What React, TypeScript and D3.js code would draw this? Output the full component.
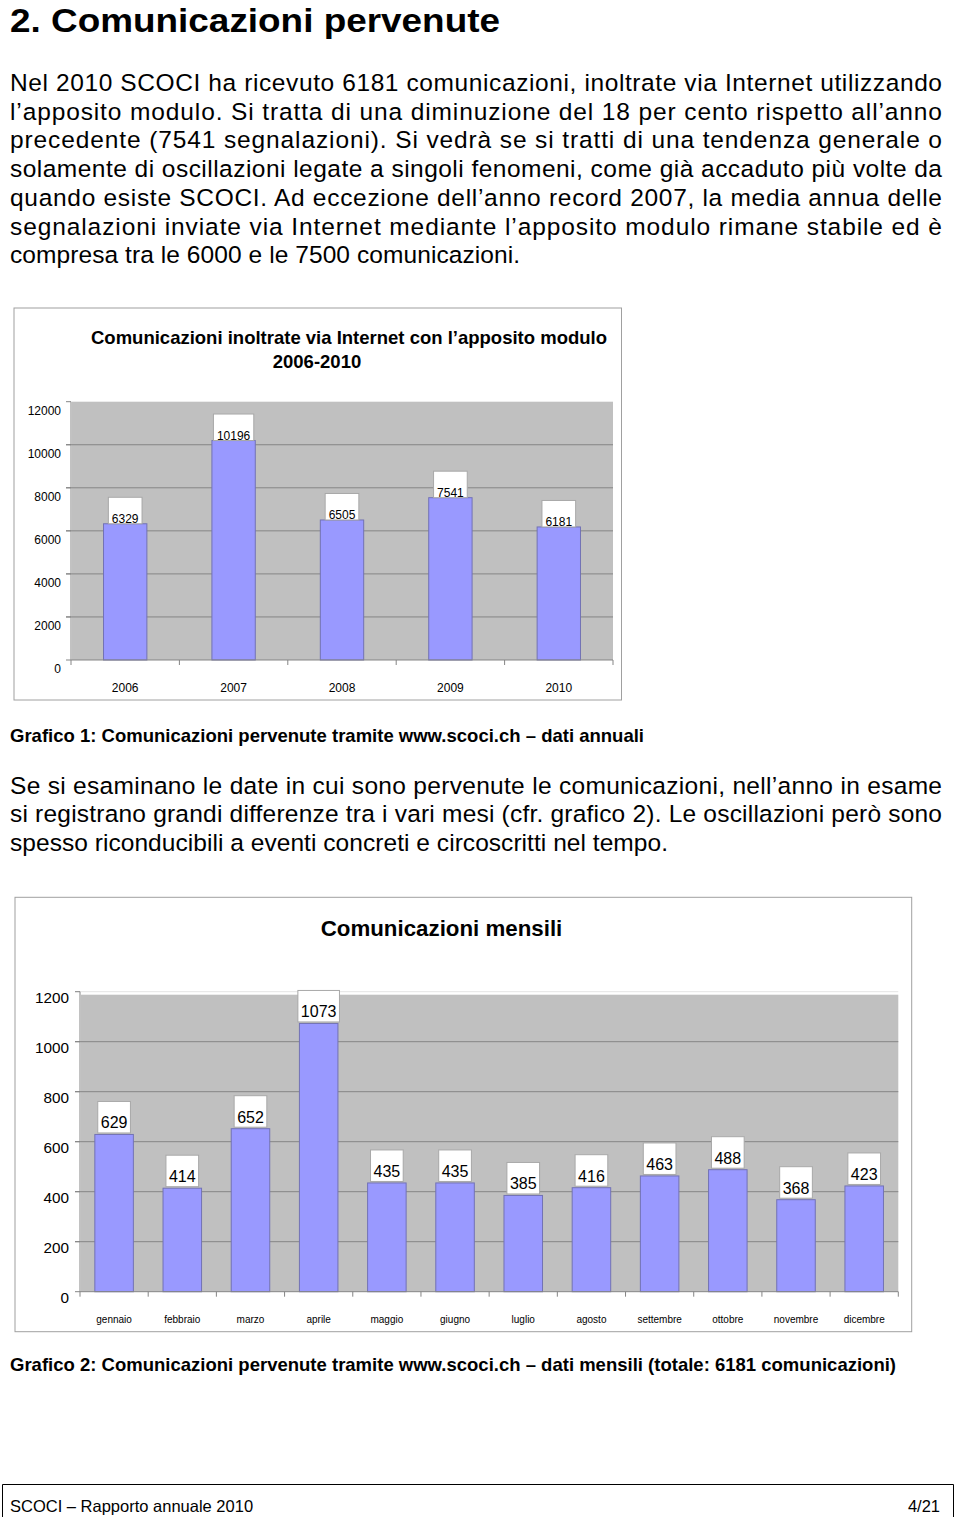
/* eslint-disable */
import React, { useRef, useEffect } from "react";
import * as d3 from "d3";

// Page text
const heading = "2. Comunicazioni pervenute";
const introLines = [
  "Nel 2010 SCOCI ha ricevuto 6181 comunicazioni, inoltrate via Internet utilizzando",
  "l’apposito modulo. Si tratta di una diminuzione del 18 per cento rispetto all’anno",
  "precedente (7541 segnalazioni). Si vedrà se si tratti di una tendenza generale o",
  "solamente di oscillazioni legate a singoli fenomeni, come già accaduto più volte da",
  "quando esiste SCOCI. Ad eccezione dell’anno record 2007, la media annua delle",
  "segnalazioni inviate via Internet mediante l’apposito modulo rimane stabile ed è",
  "compresa tra le 6000 e le 7500 comunicazioni.",
];
const monthLines = [
  "Se si esaminano le date in cui sono pervenute le comunicazioni, nell’anno in esame",
  "si registrano grandi differenze tra i vari mesi (cfr. grafico 2). Le oscillazioni però sono",
  "spesso riconducibili a eventi concreti e circoscritti nel tempo.",
];
const caption1 = "Grafico 1: Comunicazioni pervenute tramite www.scoci.ch – dati annuali";
const caption2 =
  "Grafico 2: Comunicazioni pervenute tramite www.scoci.ch – dati mensili (totale: 6181 comunicazioni)";
const footerLeft = "SCOCI – Rapporto annuale 2010";
const footerRight = "4/21";

// Chart 1 data
const annualTitle = ["Comunicazioni inoltrate via Internet con l’apposito modulo", "2006-2010"];
const years = ["2006", "2007", "2008", "2009", "2010"];
const annualValues = [6329, 10196, 6505, 7541, 6181];
const annualTicks = [0, 2000, 4000, 6000, 8000, 10000, 12000];

// Chart 2 data
const monthlyTitle = ["Comunicazioni mensili"];
const months = [
  "gennaio", "febbraio", "marzo", "aprile", "maggio", "giugno",
  "luglio", "agosto", "settembre", "ottobre", "novembre", "dicembre",
];
const monthlyValues = [629, 414, 652, 1073, 435, 435, 385, 416, 463, 488, 368, 423];
const monthlyTicks = [0, 200, 400, 600, 800, 1000, 1200];

const App = () => {
  const svgRef = useRef<SVGSVGElement>(null);

  useEffect(() => {
    if (!svgRef.current) return;
    const svg = d3.select(svgRef.current);
    svg.selectAll("*").remove();

    const width = 960;
    const height = 1517;
    svg
      .attr("width", width)
      .attr("height", height)
      .attr("viewBox", [0, 0, width, height])
      .style("position", "absolute")
      .style("left", 0)
      .style("top", 0)
      .style("background", "#fff")
      .style("font-family", "'Liberation Sans', Arial, Helvetica, sans-serif");

    // Heading + paragraphs
    svg
      .append("text")
      .attr("x", 10)
      .attr("y", 31.5)
      .attr("font-size", 34)
      .attr("font-weight", "bold")
      .attr("textLength", 490)
      .attr("lengthAdjust", "spacingAndGlyphs")
      .text(heading);

    const paragraph = (lines: string[], y0: number, step: number, lastWidth: number) => {
      lines.forEach((line, i) => {
        const last = i === lines.length - 1;
        svg
          .append("text")
          .attr("x", 10)
          .attr("y", y0 + i * step)
          .attr("font-size", 24.5)
          .attr("textLength", last ? lastWidth : 932)
          .attr("lengthAdjust", "spacing")
          .text(line);
      });
    };
    paragraph(introLines, 91, 28.7, 510);
    paragraph(monthLines, 793.5, 28.5, 658);

    // Captions
    svg
      .append("text")
      .attr("x", 10)
      .attr("y", 741.5)
      .attr("font-size", 18.5)
      .attr("font-weight", "bold")
      .attr("textLength", 634)
      .attr("lengthAdjust", "spacing")
      .text(caption1);
    svg
      .append("text")
      .attr("x", 10)
      .attr("y", 1370.5)
      .attr("font-size", 18.5)
      .attr("font-weight", "bold")
      .attr("textLength", 886)
      .attr("lengthAdjust", "spacing")
      .text(caption2);

    // Bar chart helper
    const barChart = (o: any) => {
      const g = svg.append("g");
      const [fx0, fy0, fx1, fy1] = o.frame;
      const [pl, pt, pr, pb] = o.plot;

      g.append("rect")
        .attr("x", fx0)
        .attr("y", fy0)
        .attr("width", fx1 - fx0)
        .attr("height", fy1 - fy0)
        .attr("fill", "#fff")
        .attr("stroke", "#a0a0a0");

      o.title.forEach((t: string, i: number) => {
        g.append("text")
          .attr("x", o.titleX[i])
          .attr("y", o.titleY[i])
          .attr("text-anchor", "middle")
          .attr("font-size", o.titleSize)
          .attr("font-weight", "bold")
          .text(t);
      });

      const x = d3.scaleBand(o.cats, [pl, pr]).paddingInner(o.pad).paddingOuter(o.pad / 2);
      const y = d3.scaleLinear([0, d3.max(o.ticks) as number], [pb, pt]);

      // plot background
      g.append("rect")
        .attr("x", pl + 1)
        .attr("y", pt + o.bgGap)
        .attr("width", pr - pl - 1)
        .attr("height", pb - pt - o.bgGap)
        .attr("fill", "#c0c0c0");

      // gridlines + left ticks
      g.selectAll(".grid")
        .data(o.ticks.filter((d: number) => d > 0 && (o.bgGap === 0 ? d < d3.max(o.ticks) : true)))
        .join("line")
        .attr("x1", pl - 5)
        .attr("x2", pr)
        .attr("y1", (d: number) => y(d))
        .attr("y2", (d: number) => y(d))
        .attr("stroke", (d: number) => (d === d3.max(o.ticks) ? "#e4e4e4" : "#858585"))
        .attr("stroke-width", 1);
      g.selectAll(".ltick")
        .data(o.ticks)
        .join("line")
        .attr("x1", pl - 5)
        .attr("x2", pl)
        .attr("y1", (d: number) => y(d))
        .attr("y2", (d: number) => y(d))
        .attr("stroke", "#858585");

      // y labels
      g.selectAll(".ylab")
        .data(o.ticks)
        .join("text")
        .attr("x", o.yLabelX)
        .attr("y", (d: number) => y(d) + o.yLabelDy)
        .attr("text-anchor", "end")
        .attr("font-size", o.yLabelSize)
        .text((d: number) => d);

      // bars
      g.selectAll(".bar")
        .data(o.values)
        .join("rect")
        .attr("x", (_: any, i: number) => x(o.cats[i]) as number)
        .attr("y", (d: number) => y(d))
        .attr("width", x.bandwidth())
        .attr("height", (d: number) => pb - y(d))
        .attr("fill", "#9999ff")
        .attr("stroke", "#7272b4")
        .attr("stroke-width", 1);

      // axes lines
      g.append("line")
        .attr("x1", pl)
        .attr("x2", pl)
        .attr("y1", pt)
        .attr("y2", pb)
        .attr("stroke", "#858585");
      g.append("line")
        .attr("x1", pl)
        .attr("x2", pr)
        .attr("y1", pb)
        .attr("y2", pb)
        .attr("stroke", "#858585");
      const step = x.step();
      d3.range(o.cats.length + 1).forEach((i) => {
        const bx = pl + i * step;
        g.append("line")
          .attr("x1", bx)
          .attr("x2", bx)
          .attr("y1", pb)
          .attr("y2", pb + 5)
          .attr("stroke", "#858585");
      });

      // value labels in white boxes
      o.values.forEach((v: number, i: number) => {
        const cx = (x(o.cats[i]) as number) + x.bandwidth() / 2;
        const tw = String(v).length * 0.556 * o.valueSize;
        const bw = tw + o.boxPad;
        const bottom = y(v) - o.boxGap;
        g.append("rect")
          .attr("x", cx - bw / 2)
          .attr("y", bottom - o.boxH)
          .attr("width", bw)
          .attr("height", o.boxH)
          .attr("fill", "#fff")
          .attr("stroke", "#a8a8a8")
          .attr("stroke-width", 1);
        g.append("text")
          .attr("x", cx)
          .attr("y", y(v) - o.textGap)
          .attr("text-anchor", "middle")
          .attr("font-size", o.valueSize)
          .text(v);
      });

      // category labels
      g.selectAll(".xlab")
        .data(o.cats)
        .join("text")
        .attr("x", (d: string) => (x(d) as number) + x.bandwidth() / 2)
        .attr("y", o.catY)
        .attr("text-anchor", "middle")
        .attr("font-size", o.catSize)
        .text((d: string) => d);
    };

    barChart({
      cats: years,
      values: annualValues,
      ticks: annualTicks,
      frame: [14, 308, 621.5, 700],
      plot: [71, 401.7, 613, 660],
      pad: 0.6,
      bgGap: 0,
      title: annualTitle,
      titleX: [349, 317],
      titleY: [343.5, 367.5],
      titleSize: 18.5,
      yLabelX: 61,
      yLabelDy: 13.3,
      yLabelSize: 12,
      valueSize: 12,
      boxPad: 7,
      boxH: 26.5,
      boxGap: 0,
      textGap: 1,
      catY: 692,
      catSize: 12,
    });

    barChart({
      cats: months,
      values: monthlyValues,
      ticks: monthlyTicks,
      frame: [15, 897.3, 911.7, 1331.7],
      plot: [80, 991.7, 898.3, 1291.7],
      pad: 0.435,
      bgGap: 3,
      title: monthlyTitle,
      titleX: [441.5],
      titleY: [936],
      titleSize: 22.3,
      yLabelX: 69,
      yLabelDy: 11,
      yLabelSize: 15.3,
      valueSize: 16,
      boxPad: 6,
      boxH: 31.5,
      boxGap: 1.5,
      textGap: 6,
      catY: 1322.5,
      catSize: 10,
    });

    // Footer
    svg
      .append("path")
      .attr("d", "M2.5,1530V1484.5H953.5V1530")
      .attr("fill", "none")
      .attr("stroke", "#000")
      .attr("stroke-width", 1);
    svg
      .append("text")
      .attr("x", 10)
      .attr("y", 1512)
      .attr("font-size", 16.5)
      .text(footerLeft);
    svg
      .append("text")
      .attr("x", 940)
      .attr("y", 1512)
      .attr("text-anchor", "end")
      .attr("font-size", 16.5)
      .text(footerRight);
  }, []);

  return <svg ref={svgRef}></svg>;
};

export default App;
